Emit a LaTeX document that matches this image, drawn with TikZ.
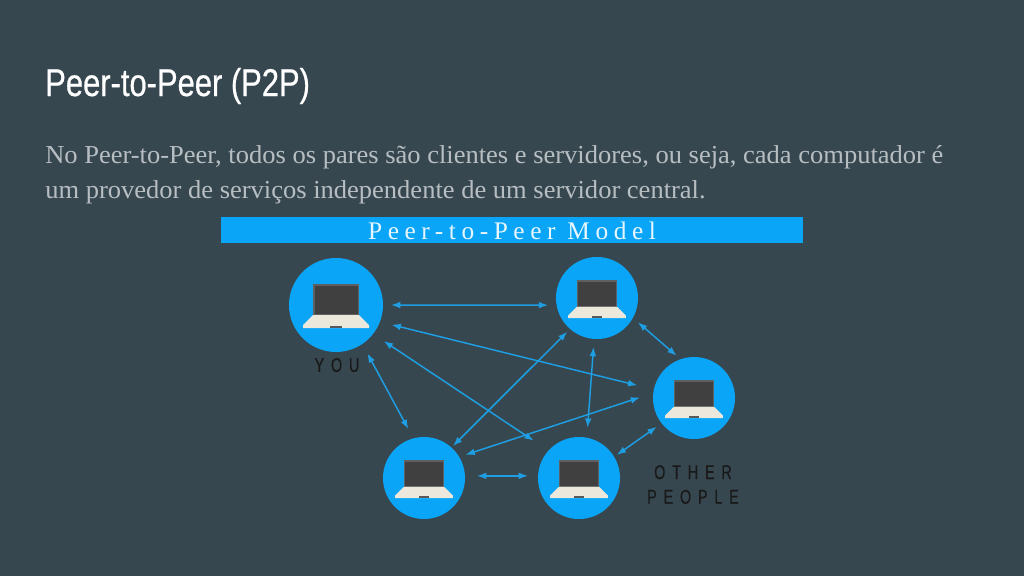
\documentclass[tikz,border=0pt]{standalone}
\usepackage{fontspec}
\setmainfont{Liberation Serif}
\newfontfamily\titlefont[FakeStretch=0.8,FakeBold=0.6]{Liberation Sans}
\newfontfamily\labelfont[FakeStretch=0.72,LetterSpace=14,FakeBold=0.4]{Liberation Sans}
\newfontfamily\bodyfont[FakeStretch=1.025]{Liberation Serif}
\newfontfamily\barfont[LetterSpace=22]{Liberation Serif}
\usetikzlibrary{arrows.meta}
\definecolor{slide}{HTML}{37474F}
\definecolor{peerblue}{HTML}{0AA5F7}
\definecolor{linkblue}{HTML}{1E9FE3}
\definecolor{bodygrey}{HTML}{B7BEC2}
\definecolor{laptopbase}{HTML}{ECE8DC}
\tikzset{
    peer/.style={circle,fill=peerblue,inner sep=0pt,outer sep=0pt,minimum size=#1*0.75pt},
    link/.style={draw=linkblue,line width=1.1pt,{Latex[length=7pt,width=5pt]}-{Latex[length=7pt,width=5pt]}},
    tag/.style={text=black!90,font=\labelfont\fontsize{15}{18.5}\selectfont,inner sep=0pt,align=center},
    laptop/.pic={
        \fill[gray!75!black] (-23.3,-20.7) rectangle (23.3,10.5);
        \fill[black!75] (-21.5,-18.7) rectangle (21.5,9);
        \fill[laptopbase] (-23,10) -- (23,10) -- (33,20) -- (33,23) -- (-33,23) -- (-33,20) -- cycle;
        \fill[gray!70!black] (-6,21) rectangle (6,23);
    }
}
\begin{document}
\begin{tikzpicture}[x=0.75pt,y=-0.75pt]
    \useasboundingbox[fill=slide] (0,0) rectangle (1024,576);
    \node[anchor=base west,inner sep=0pt,text=white,font=\titlefont\fontsize{29}{34}\selectfont] (title) at (45,96) {Peer-to-Peer (P2P)};
    \node[anchor=north west,inner sep=0pt,text=bodygrey,align=left,font=\bodyfont\fontsize{19.4}{26.25}\selectfont] (intro) at (45,145) {No Peer-to-Peer, todos os pares são clientes e servidores, ou seja, cada computador é\\um provedor de serviços independente de um servidor central.};
    \fill[peerblue] (221,217) rectangle (803,243);
    \node[text=white!90!peerblue,inner sep=0pt,font=\barfont\fontsize{19}{22}\selectfont] (model) at (512,231) {Peer-to-Peer Model};
    \node[peer=94] (you) at (336,305) {};
    \node[peer=82] (top) at (597,298) {};
    \node[peer=82] (right) at (694,398) {};
    \node[peer=82] (left) at (424,478) {};
    \node[peer=82] (bottom) at (579,478) {};
    \pic[scale=1] at (you) {laptop};
    \pic[scale=0.875] at (top) {laptop};
    \pic[scale=0.875] at (right) {laptop};
    \pic[scale=0.875] at (left) {laptop};
    \pic[scale=0.875] at (bottom) {laptop};
    \node[tag] (youtag) at (337,365) {Y O U};
    \node[tag] (othertag) at (693,484.5) {O T H E R\\P E O P L E};
    \draw[link,shorten <=6pt,shorten >=6.4pt] (you.0) -- (top.190);
    \draw[link,shorten <=9pt,shorten >=12.8pt] (you.-21) -- (right.168);
    \draw[link,shorten <=9.6pt,shorten >=13.4pt] (you.-38) -- (bottom.138);
    \draw[link,shorten <=8pt,shorten >=8pt] (you.-56) -- (left.105);
    \draw[link,shorten <=3pt,shorten >=1.6pt] (top.229) -- (left.48);
    \draw[link,shorten <=6pt,shorten >=7.5pt] (top.266) -- (bottom.79);
    \draw[link,shorten <=5pt,shorten >=4pt] (top.-29) -- (right.109);
    \draw[link,shorten <=10.5pt,shorten >=5pt] (right.173) -- (left.31);
    \draw[link,shorten <=4.5pt,shorten >=2.5pt] (right.218) -- (bottom.31);
    \draw[link,shorten <=9pt,shorten >=7.5pt] (left.3) -- (bottom.177);
\end{tikzpicture}
\end{document}
